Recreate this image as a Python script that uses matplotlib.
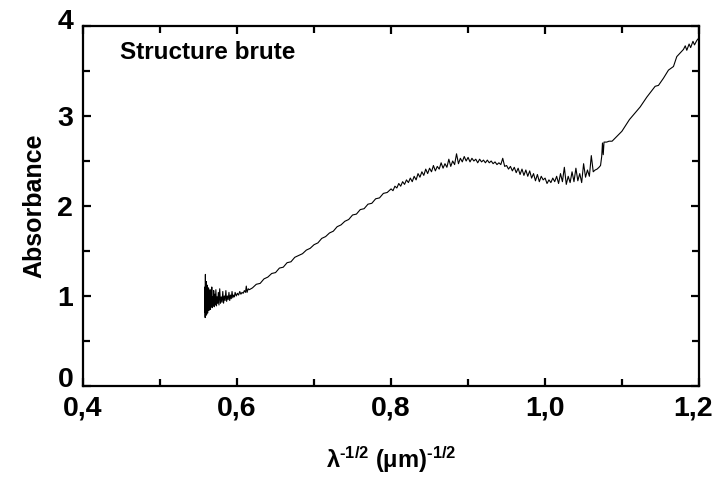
import matplotlib
matplotlib.use("Agg")
import matplotlib.pyplot as plt
from matplotlib.ticker import MultipleLocator
from matplotlib.transforms import ScaledTranslation

plt.rcParams['font.family'] = ['Liberation Sans', 'DejaVu Sans']
plt.rcParams['font.weight'] = 'bold'
plt.rcParams['mathtext.fontset'] = 'custom'
plt.rcParams['mathtext.rm'] = 'Liberation Sans:bold'
plt.rcParams['mathtext.it'] = 'Liberation Sans:bold'
plt.rcParams['mathtext.bf'] = 'Liberation Sans:bold'
plt.rcParams['mathtext.default'] = 'rm'

# Spectrum: noisy onset
x_start = [0.5580, 0.5583, 0.5586, 0.5589, 0.5592, 0.5595, 0.5598, 0.5601, 0.5604, 0.5607,
           0.5610, 0.5614, 0.5618, 0.5622, 0.5626, 0.5630, 0.5635, 0.5640, 0.5645, 0.5650,
           0.5655, 0.5660, 0.5666, 0.5672, 0.5678, 0.5684, 0.5690, 0.5697, 0.5704, 0.5711,
           0.5718, 0.5725, 0.5733, 0.5741, 0.5749, 0.5757, 0.5765, 0.5775, 0.5785, 0.5795,
           0.5805, 0.5815, 0.5825, 0.5835, 0.5845, 0.5855, 0.5865, 0.5875, 0.5885, 0.5895,
           0.5905, 0.5915, 0.5925, 0.5935, 0.5945, 0.5955, 0.5965, 0.5975, 0.5990, 0.6005,
           0.6020, 0.6035, 0.6050, 0.6065, 0.6080, 0.6095, 0.6110, 0.6120, 0.6130, 0.6145,
           0.6160]
y_start = [0.82, 1.10, 0.76, 1.24, 0.78, 1.08, 0.80, 1.16, 0.79, 1.02,
           0.83, 1.12, 0.81, 1.05, 0.85, 1.09, 0.84, 0.99, 0.86, 1.07,
           0.85, 1.03, 0.88, 1.10, 0.87, 0.99, 0.89, 1.06, 0.88, 1.02,
           0.90, 1.07, 0.89, 0.99, 0.92, 1.04, 0.90, 1.08, 0.92, 0.99,
           0.93, 1.05, 0.92, 1.00, 0.95, 1.06, 0.94, 1.00, 0.96, 1.04,
           0.95, 1.01, 0.97, 1.05, 0.98, 1.01, 0.99, 1.04, 1.00, 1.03,
           1.01, 1.05, 1.02, 1.04, 1.03, 1.06, 1.04, 1.11, 1.04, 1.08,
           1.07]

# Spectrum: linear rise
x_rise = [0.620, 0.625, 0.630, 0.635, 0.640, 0.645, 0.650, 0.655, 0.660, 0.665,
          0.670, 0.675, 0.680, 0.685, 0.690, 0.695, 0.700, 0.705, 0.710, 0.715,
          0.720, 0.725, 0.730, 0.735, 0.740, 0.745, 0.750, 0.755, 0.760, 0.765,
          0.770, 0.775, 0.780, 0.785, 0.790, 0.795, 0.800]
y_rise = [1.09, 1.13, 1.14, 1.19, 1.21, 1.25, 1.26, 1.31, 1.32, 1.37,
          1.38, 1.43, 1.45, 1.47, 1.51, 1.53, 1.57, 1.59, 1.64, 1.66,
          1.70, 1.72, 1.77, 1.79, 1.83, 1.85, 1.90, 1.91, 1.96, 1.97,
          2.02, 2.03, 2.08, 2.09, 2.14, 2.15, 2.19]

# Spectrum: hump and valley
x_hump = [0.8025, 0.805, 0.8075, 0.810, 0.8125, 0.815, 0.8175, 0.820, 0.8225, 0.825,
          0.8275, 0.830, 0.8325, 0.835, 0.8375, 0.840, 0.8425, 0.845, 0.8475, 0.850,
          0.8525, 0.855, 0.8575, 0.860, 0.8625, 0.865, 0.8675, 0.870, 0.8725, 0.875,
          0.8775, 0.880, 0.8825, 0.885, 0.8875, 0.890, 0.8925, 0.895, 0.8975, 0.900,
          0.9025, 0.905, 0.9075, 0.910, 0.9125, 0.915, 0.9175, 0.920, 0.9225, 0.925,
          0.9275, 0.930, 0.9325, 0.935, 0.9375, 0.940, 0.9425, 0.945, 0.9475, 0.950,
          0.9525, 0.955, 0.9575, 0.960, 0.9625, 0.965, 0.9675, 0.970, 0.9725, 0.975,
          0.9775, 0.980, 0.9825, 0.985, 0.9875, 0.990, 0.9925, 0.995, 0.9975, 1.000,
          1.0025, 1.005, 1.0075, 1.010, 1.0125, 1.015, 1.0175, 1.020, 1.0225, 1.025,
          1.0275, 1.030, 1.0325, 1.035, 1.0375, 1.040, 1.0425, 1.045, 1.0475, 1.050,
          1.0525, 1.055, 1.0575, 1.060, 1.0625, 1.065, 1.0675, 1.070, 1.072]
y_hump = [2.17, 2.22, 2.20, 2.25, 2.22, 2.27, 2.24, 2.29, 2.26, 2.31,
          2.27, 2.33, 2.29, 2.36, 2.32, 2.38, 2.34, 2.41, 2.36, 2.42,
          2.38, 2.45, 2.39, 2.44, 2.41, 2.48, 2.42, 2.47, 2.43, 2.52,
          2.44, 2.50, 2.46, 2.58, 2.47, 2.53, 2.49, 2.55, 2.50, 2.54,
          2.49, 2.53, 2.50, 2.52, 2.48, 2.52, 2.49, 2.51, 2.48, 2.51,
          2.48, 2.50, 2.47, 2.49, 2.46, 2.48, 2.46, 2.53, 2.44, 2.45,
          2.41, 2.44, 2.39, 2.43, 2.37, 2.42, 2.35, 2.41, 2.34, 2.40,
          2.33, 2.39, 2.31, 2.36, 2.28, 2.35, 2.27, 2.33, 2.29, 2.31,
          2.25, 2.29, 2.26, 2.31, 2.27, 2.33, 2.25, 2.36, 2.27, 2.43,
          2.24, 2.33, 2.26, 2.38, 2.27, 2.42, 2.28, 2.36, 2.26, 2.47,
          2.32, 2.40, 2.33, 2.56, 2.38, 2.40, 2.41, 2.43, 2.45]

# Spectrum: jump and final rise
x_end = [1.0735, 1.0745, 1.0755, 1.0765, 1.0800, 1.0830, 1.0870, 1.0997, 1.1095, 1.1234,
         1.1321, 1.1429, 1.1472, 1.1537, 1.1602, 1.1667, 1.1710, 1.1753, 1.1797, 1.1820,
         1.1840, 1.1870, 1.1890, 1.1920, 1.1940, 1.1970, 1.1990]
y_end = [2.55, 2.70, 2.57, 2.71, 2.71, 2.72, 2.72, 2.83, 2.96, 3.10,
         3.21, 3.33, 3.34, 3.42, 3.51, 3.55, 3.66, 3.70, 3.74, 3.78,
         3.73, 3.80, 3.76, 3.83, 3.79, 3.84, 3.86]

x_ticks = [0.4, 0.6, 0.8, 1.0, 1.2]
x_tick_labels = ['0,4', '0,6', '0,8', '1,0', '1,2']
y_ticks = [0, 1, 2, 3, 4]
y_tick_labels = ['0', '1', '2', '3', '4']

x_all = x_start + x_rise + x_hump + x_end
y_all = y_start + y_rise + y_hump + y_end

fig = plt.figure(figsize=(7.2, 4.86), dpi=100)
ax = fig.add_axes([0.1153, 0.2058, 0.8557, 0.7407])
ax.plot(x_all, y_all, color='black', lw=0.8)

ax.set_xlim(0.4, 1.2)
ax.set_ylim(0, 4)
ax.set_xticks(x_ticks)
ax.set_xticklabels(x_tick_labels)
ax.set_yticks(y_ticks)
ax.set_yticklabels(y_tick_labels)
ax.xaxis.set_minor_locator(MultipleLocator(0.1))
ax.yaxis.set_minor_locator(MultipleLocator(0.5))
ax.tick_params(which='both', direction='in', top=True, right=True, width=1.6)
ax.tick_params(which='major', length=6)
ax.tick_params(which='minor', length=5)
ax.tick_params(axis='x', which='major', labelsize=20.5, pad=7)
ax.tick_params(axis='y', which='major', labelsize=20.5, pad=7)
for lab in ax.get_xticklabels() + ax.get_yticklabels():
    lab.set_fontweight('bold')
for s in ax.spines.values():
    s.set_linewidth(1.6)

# end labels of the y axis sit slightly inside, as in the reference
ylabs = ax.get_yticklabels()
ylabs[0].set_transform(ylabs[0].get_transform() + ScaledTranslation(0, 9 / 100, fig.dpi_scale_trans))
ylabs[-1].set_transform(ylabs[-1].get_transform() + ScaledTranslation(0, 7 / 100, fig.dpi_scale_trans))
xlabs = ax.get_xticklabels()
xlabs[-1].set_transform(xlabs[-1].get_transform() + ScaledTranslation(-6 / 100, 0, fig.dpi_scale_trans))

ax.set_ylabel('Absorbance', fontsize=18, fontweight='bold', labelpad=8)
ax.set_xlabel(r'λ$^{\text{-1/2}}$ (μm)$^{\text{-1/2}}$', fontsize=17, fontweight='bold', labelpad=16)
ax.text(0.448, 3.71, 'Structure brute', fontsize=17.5, fontweight='bold', va='center')

fig.savefig('out.png', dpi=100)
